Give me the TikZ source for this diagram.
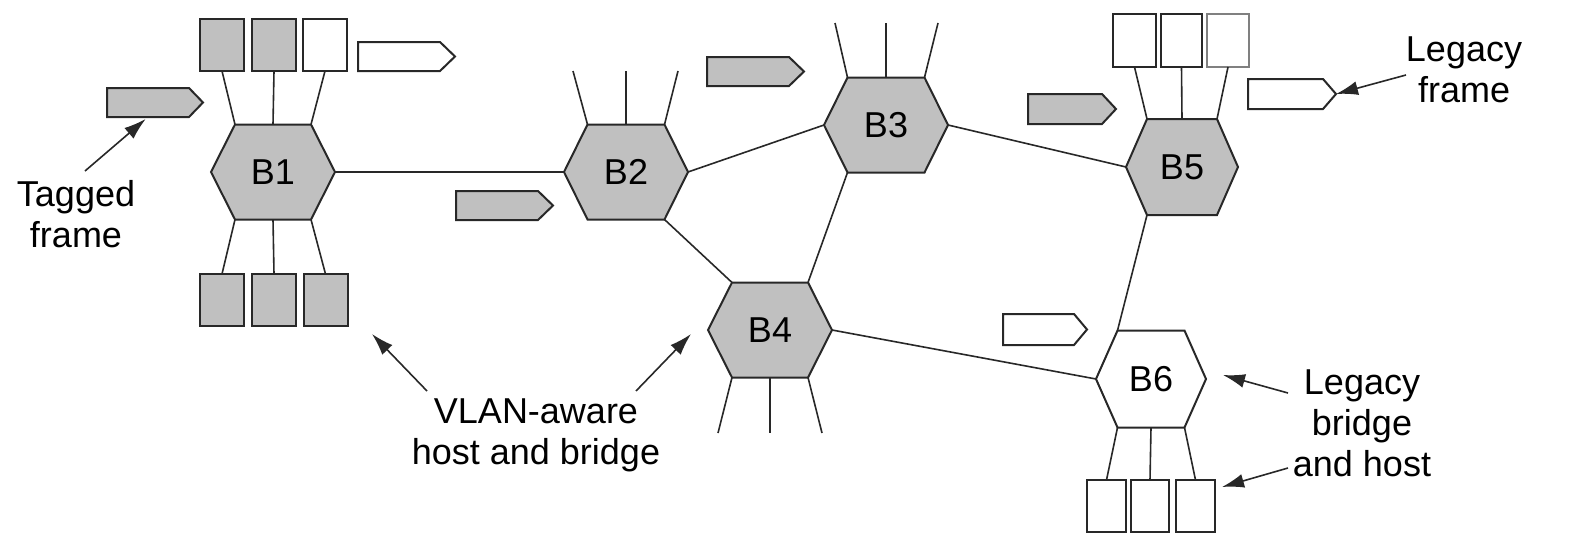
\documentclass[tikz,border=0pt]{standalone}
\usepackage{fontspec}
\setmainfont{Liberation Sans}
\usetikzlibrary{arrows.meta}
\definecolor{fillgray}{RGB}{192,192,192}
\definecolor{ink}{RGB}{40,40,40}
\tikzset{
  hexline/.style={draw=ink, line width=2pt, line join=miter},
  link/.style={draw=ink, line width=1.6pt},
  host/.style={draw=ink, line width=2pt, rectangle, inner sep=0pt, outer sep=0pt, minimum width=44pt, minimum height=52pt},
  frm/.style={draw=ink, line width=2pt, line join=miter},
  lbl/.style={font=\fontsize{36pt}{41pt}\selectfont, inner sep=0pt, outer sep=0pt, text=black},
  callout/.style={draw=ink, line width=1.6pt, -{Latex[length=22pt,width=14pt]}},
}
% name, cx, cy, half width, half top edge, half height, fill, label
\newcommand{\hexa}[8]{%
  \draw[hexline, fill=#7] (#2-#4,#3) coordinate (#1-l) -- (#2-#5,#3-#6) coordinate (#1-tl)
    -- (#2+#5,#3-#6) coordinate (#1-tr) -- (#2+#4,#3) coordinate (#1-r)
    -- (#2+#5,#3+#6) coordinate (#1-br) -- (#2-#5,#3+#6) coordinate (#1-bl) -- cycle;
  \coordinate (#1-t) at (#2,#3-#6);
  \coordinate (#1-b) at (#2,#3+#6);
  \node[lbl] (#1) at (#2,#3) {#8};}
% name, x left, x shoulder, x tip, y top, y bottom, fill
\newcommand{\frm}[7]{%
  \draw[frm, fill=#7] (#2,#5) -- (#3,#5) -- (#4,#5/2+#6/2) coordinate (#1)
    -- (#3,#6) -- (#2,#6) -- cycle;
  \coordinate (#1-b) at (#2/2+#3/2,#6);}
\begin{document}
\begin{tikzpicture}[x=1pt, y=-1pt]
\fill[white] (0,0) rectangle (1577,533);
\useasboundingbox (0,0) rectangle (1577,533);

% bridges
\hexa{b1}{273}{172}{62}{38}{47.5}{fillgray}{B1}
\hexa{b2}{626}{172}{62}{38.5}{47.5}{fillgray}{B2}
\hexa{b3}{886}{125}{62}{38.5}{47.5}{fillgray}{B3}
\hexa{b4}{770}{330}{62}{38}{47.5}{fillgray}{B4}
\hexa{b5}{1182}{167}{56}{35}{48}{fillgray}{B5}
\hexa{b6}{1151}{379}{55}{33.5}{48.5}{white}{B6}

% hosts
\node[host, fill=fillgray] (h1) at (222,45) {};
\node[host, fill=fillgray] (h2) at (274,45) {};
\node[host, fill=white] (h3) at (325,45) {};
\node[host, fill=fillgray] (h4) at (222,300) {};
\node[host, fill=fillgray] (h5) at (274,300) {};
\node[host, fill=fillgray] (h6) at (325.5,300) {};
\node[host, fill=white, minimum width=43pt, minimum height=53pt] (h7) at (1134.5,40.5) {};
\node[host, fill=white, minimum width=41pt, minimum height=53pt] (h8) at (1181.5,40.5) {};
\node[host, fill=white, draw=black!50, minimum width=42pt, minimum height=53pt] (h9) at (1228,40.5) {};
\node[host, fill=white, minimum width=39pt] (h10) at (1106.5,506) {};
\node[host, fill=white, minimum width=38pt] (h11) at (1150,506) {};
\node[host, fill=white, minimum width=39pt] (h12) at (1195.5,506) {};

% free stub ends
\coordinate (s21) at (573,71);  \coordinate (s22) at (626,71);  \coordinate (s23) at (678,71);
\coordinate (s31) at (835,23);  \coordinate (s32) at (886,23);  \coordinate (s33) at (938,23);
\coordinate (s41) at (718,433); \coordinate (s42) at (770,433); \coordinate (s43) at (822,433);

% stubs
\draw[link] (b1-tl) -- (h1.south);  \draw[link] (b1-t) -- (h2.south);  \draw[link] (b1-tr) -- (h3.south);
\draw[link] (b1-bl) -- (h4.north);  \draw[link] (b1-b) -- (h5.north);  \draw[link] (b1-br) -- (h6.north);
\draw[link] (b2-tl) -- (s21);  \draw[link] (b2-t) -- (s22);  \draw[link] (b2-tr) -- (s23);
\draw[link] (b3-tl) -- (s31);  \draw[link] (b3-t) -- (s32);  \draw[link] (b3-tr) -- (s33);
\draw[link] (b4-bl) -- (s41);  \draw[link] (b4-b) -- (s42);  \draw[link] (b4-br) -- (s43);
\draw[link] (b5-tl) -- (h7.south);  \draw[link] (b5-t) -- (h8.south);  \draw[link] (b5-tr) -- (h9.south);
\draw[link] (b6-bl) -- (h10.north); \draw[link] (b6-b) -- (h11.north); \draw[link] (b6-br) -- (h12.north);

% links between bridges
\draw[link] (b1-r) -- (b2-l);
\draw[link] (b2-r) -- (b3-l);
\draw[link] (b2-br) -- (b4-tl);
\draw[link] (b3-bl) -- (b4-tr);
\draw[link] (b3-r) -- (b5-l);
\draw[link] (b5-bl) -- (b6-tl);
\draw[link] (b4-r) -- (b6-l);

% frames
\frm{f1}{358}{440}{455}{42}{71}{white}
\frm{f2}{107}{189}{203}{88}{117}{fillgray}
\frm{f3}{456}{538}{553}{191}{220}{fillgray}
\frm{f4}{707}{789}{804}{57}{86}{fillgray}
\frm{f5}{1028}{1102}{1116}{94}{124}{fillgray}
\frm{f6}{1248}{1323}{1336}{79}{109}{white}
\frm{f7}{1003}{1074}{1087}{314}{345}{white}

% labels
\node[lbl, align=center, anchor=north] (tagged) at (76,180) {Tagged\\frame};
\node[lbl, align=center, anchor=north] (vlan) at (536,399) {VLAN-aware\\host and bridge};
\node[lbl, align=center, anchor=north] (legframe) at (1464,37) {Legacy\\frame};
\node[lbl, align=center, anchor=north] (legbridge) at (1362,370) {Legacy\\bridge\\and host};

% callouts
\coordinate (a1s) at (85,171);
\coordinate (a2s) at (427,391); \coordinate (a2t) at (372,334);
\coordinate (a3s) at (636,391); \coordinate (a3t) at (691,334);
\coordinate (a4s) at (1406,75);
\coordinate (a5s) at (1288,393); \coordinate (a5t) at (1223,375);
\coordinate (a6s) at (1288,468); \coordinate (a6t) at (1222,487);
\draw[callout, shorten >=3pt] (a1s) -- (f2-b);
\draw[callout] (a2s) -- (a2t);
\draw[callout] (a3s) -- (a3t);
\draw[callout] (a4s) -- (f6);
\draw[callout] (a5s) -- (a5t);
\draw[callout] (a6s) -- (a6t);
\end{tikzpicture}
\end{document}
